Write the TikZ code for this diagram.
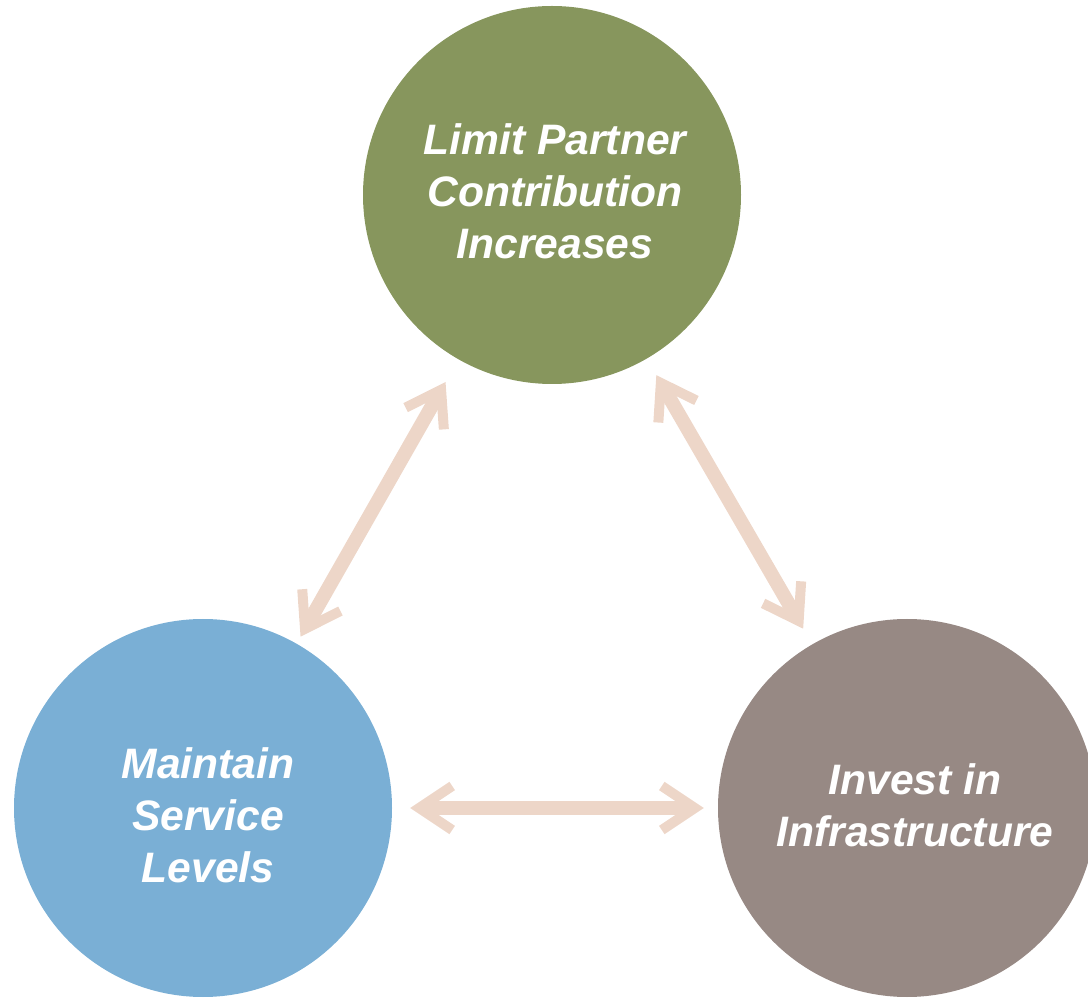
\documentclass[tikz,border=0pt]{standalone}
\usepackage{fontspec}
\setmainfont{Liberation Sans}
\usetikzlibrary{arrows.meta}
\definecolor{goalgreen}{RGB}{135,150,93}
\definecolor{goalblue}{RGB}{122,175,213}
\definecolor{goalgray}{RGB}{151,137,132}
\definecolor{linkpeach}{RGB}{237,214,200}
\tikzset{
  goal/.style={circle, minimum size=378pt, inner sep=0pt},
  goaltext/.style={align=center, inner sep=0pt, text=white,
    font=\fontsize{42.6}{52}\selectfont\bfseries\itshape},
  barb/.tip={Straight Barb[length=33pt, width=44pt, line width=10pt]},
  link/.style={draw=linkpeach, line width=14pt, barb-barb}
}
\begin{document}
\begin{tikzpicture}[x=1pt, y=1pt]
  \useasboundingbox (0,0) rectangle (1088,997);
  \node[goal, fill=goalgreen] (limit) at (552,802) {};
  \node[goal, fill=goalblue] (service) at (203,189) {};
  \node[goal, fill=goalgray] (invest) at (907,189) {};
  \node[goaltext] (limittext) at ([shift={(3,4)}]limit.center) {Limit Partner\\Contribution\\Increases};
  \node[goaltext] (servicetext) at ([shift={(5,-7)}]service.center) {Maintain\\Service\\Levels};
  \node[goaltext] (investtext) at ([shift={(8,3)}]invest.center) {Invest in\\Infrastructure};
  \draw[link, shorten <=26pt, shorten >=8pt] (limit) -- (service);
  \draw[link, shorten <=19pt, shorten >=18pt] (limit) -- (invest);
  \draw[link, shorten <=18pt, shorten >=14pt] (service) -- (invest);
\end{tikzpicture}
\end{document}
